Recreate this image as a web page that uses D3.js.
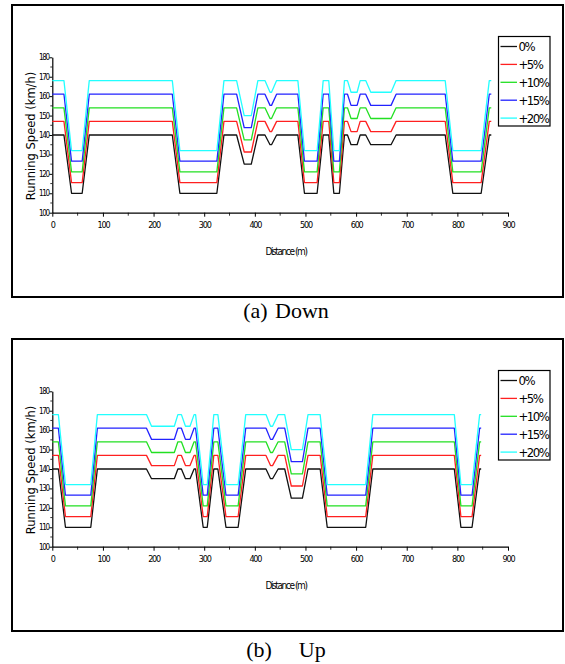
<!DOCTYPE html>
<html>
<head>
<meta charset="utf-8">
<script src="https://cdn.jsdelivr.net/npm/d3@7"></script>
<style>
  html, body { margin: 0; padding: 0; background: #fff; }
  svg { display: block; }
</style>
</head>
<body>
<svg id="chart" width="565" height="664"></svg>
<script>
// Series names and axis ticks
const seriesLabels = ["0%", "+5%", "+10%", "+15%", "+20%"];
const seriesColors = ["#111111", "#ff2020", "#22e022", "#2222ff", "#22ffff"];
const xTicks = [0, 100, 200, 300, 400, 500, 600, 700, 800, 900];
const yTicks = [100, 110, 120, 130, 140, 150, 160, 170, 180];

// (a) Down: distance (m) and running speed (km/h) for each speed increase
const downDistance = [0, 23, 38, 59, 73, 237, 252, 325, 339, 364, 379, 393, 406, 420, 430, 433, 443, 485, 498, 523, 535, 546, 556, 567, 577, 583, 590, 602, 608, 619, 629, 669, 679, 776, 791, 847, 863, 867];
const down0  = [140,140,110,110,140,140,110,110,140,140,125,125,140,140,135,135,140,140,110,110,140,140,110,110,140,140,135,135,140,140,135,135,140,140,110,110,140,140];
const down5  = [147,147,115.5,115.5,147,147,115.5,115.5,147,147,131.25,131.25,147,147,141.75,141.75,147,147,115.5,115.5,147,147,115.5,115.5,147,147,141.75,141.75,147,147,141.75,141.75,147,147,115.5,115.5,147,147];
const down10 = [154,154,121,121,154,154,121,121,154,154,137.5,137.5,154,154,148.5,148.5,154,154,121,121,154,154,121,121,154,154,148.5,148.5,154,154,148.5,148.5,154,154,121,121,154,154];
const down15 = [161,161,126.5,126.5,161,161,126.5,126.5,161,161,143.75,143.75,161,161,155.25,155.25,161,161,126.5,126.5,161,161,126.5,126.5,161,161,155.25,155.25,161,161,155.25,155.25,161,161,126.5,126.5,161,161];
const down20 = [168,168,132,132,168,168,132,132,168,168,150,150,168,168,162,162,168,168,132,132,168,168,132,132,168,168,162,162,168,168,162,162,168,168,132,132,168,168];

// (b) Up
const upDistance = [0, 12, 26, 76, 89, 186, 196, 241, 248, 255, 263, 272, 280, 283, 298, 306, 319, 327, 343, 367, 382, 422, 431, 435, 446, 459, 472, 494, 505, 529, 543, 619, 633, 794, 807, 829, 844, 847];
const up0  = [140,140,110,110,140,140,135,135,140,140,135,135,140,140,110,110,140,140,110,110,140,140,135,135,140,140,125,125,140,140,110,110,140,140,110,110,140,140];
const up5  = [147,147,115.5,115.5,147,147,141.75,141.75,147,147,141.75,141.75,147,147,115.5,115.5,147,147,115.5,115.5,147,147,141.75,141.75,147,147,131.25,131.25,147,147,115.5,115.5,147,147,115.5,115.5,147,147];
const up10 = [154,154,121,121,154,154,148.5,148.5,154,154,148.5,148.5,154,154,121,121,154,154,121,121,154,154,148.5,148.5,154,154,137.5,137.5,154,154,121,121,154,154,121,121,154,154];
const up15 = [161,161,126.5,126.5,161,161,155.25,155.25,161,161,155.25,155.25,161,161,126.5,126.5,161,161,126.5,126.5,161,161,155.25,155.25,161,161,143.75,143.75,161,161,126.5,126.5,161,161,126.5,126.5,161,161];
const up20 = [168,168,132,132,168,168,162,162,168,168,162,162,168,168,132,132,168,168,132,132,168,168,162,162,168,168,150,150,168,168,132,132,168,168,132,132,168,168];

const svg = d3.select("#chart");
const narrow = '"Liberation Sans Narrow", "DejaVu Sans Condensed", sans-serif';

function drawPanel(oy, distance, series, caption, captionY, wordGap) {
  const g = svg.append("g").attr("transform", `translate(0,${oy})`);

  // outer frame
  g.append("rect")
    .attr("x", 12).attr("y", 5).attr("width", 551).attr("height", 292)
    .attr("fill", "none").attr("stroke", "#000").attr("stroke-width", 2);

  const x = d3.scaleLinear().domain([0, 900]).range([52.3, 508]);
  const y = d3.scaleLinear().domain([100, 180]).range([212.7, 57.3]);

  // minor ticks
  const minorX = d3.range(50, 900, 100);
  g.append("g").selectAll("line").data(minorX).join("line")
    .attr("x1", d => x(d)).attr("x2", d => x(d))
    .attr("y1", y(100)).attr("y2", y(100) + 3)
    .attr("stroke", "#000").attr("stroke-width", 0.8);
  const minorY = d3.range(105, 180, 10);
  g.append("g").selectAll("line").data(minorY).join("line")
    .attr("x1", x(0) - 2).attr("x2", x(0))
    .attr("y1", d => y(d)).attr("y2", d => y(d))
    .attr("stroke", "#000").attr("stroke-width", 0.8);

  // x axis
  const xAxis = g.append("g").attr("transform", `translate(0,${y(100)})`)
    .call(d3.axisBottom(x).tickValues(xTicks).tickSize(4).tickSizeOuter(0).tickFormat(d3.format("d")));
  xAxis.select(".domain").attr("stroke-width", 1.2);
  xAxis.selectAll("text")
    .attr("font-family", narrow).attr("font-size", 9)
    .style("letter-spacing", "-1.2px")
    .attr("dy", "0.9em").attr("fill", "#000");

  // y axis
  const yAxis = g.append("g").attr("transform", `translate(${x(0)},0)`)
    .call(d3.axisLeft(y).tickValues(yTicks).tickSize(3).tickSizeOuter(0).tickFormat(d3.format("d")));
  yAxis.select(".domain").attr("stroke-width", 1.2);
  yAxis.selectAll("text")
    .attr("font-family", narrow).attr("font-size", 8)
    .style("letter-spacing", "-1.3px")
    .attr("x", -3.5).attr("fill", "#000");

  // axis titles
  g.append("text")
    .attr("transform", `translate(34.5,${(y(100) + y(180)) / 2 + 1}) rotate(-90)`)
    .attr("text-anchor", "middle")
    .attr("font-family", "DejaVu Sans, sans-serif").attr("font-size", 11.5)
    .attr("fill", "#000")
    .text("Running Speed (km/h)");
  g.append("text")
    .attr("x", 286).attr("y", 255)
    .attr("text-anchor", "middle")
    .attr("font-family", narrow).attr("font-size", 10)
    .style("letter-spacing", "-1.4px")
    .attr("fill", "#000")
    .text("Distance (m)");

  // speed profiles
  const line = d3.line().x(d => x(d[0])).y(d => y(d[1]));
  series.forEach((vals, i) => {
    g.append("path")
      .datum(distance.map((d, k) => [d, vals[k]]))
      .attr("d", line)
      .attr("fill", "none")
      .attr("stroke", seriesColors[i])
      .attr("stroke-width", 1.3)
      .attr("stroke-linejoin", "round");
  });

  // legend
  const lg = g.append("g");
  lg.append("rect")
    .attr("x", 498.5).attr("y", 36.5).attr("width", 51.5).attr("height", 89.5)
    .attr("fill", "#fff").attr("stroke", "#000").attr("stroke-width", 1.2);
  seriesLabels.forEach((lab, i) => {
    const ly = 46.5 + i * 17.9;
    lg.append("line")
      .attr("x1", 500.5).attr("x2", 517).attr("y1", ly).attr("y2", ly)
      .attr("stroke", seriesColors[i]).attr("stroke-width", 1.3);
    lg.append("text")
      .attr("x", 518.5).attr("y", ly + 4.5)
      .attr("font-family", narrow).attr("font-size", 13)
      .style("letter-spacing", "-1.5px")
      .attr("fill", "#000")
      .text(lab);
  });

  // caption below the frame
  svg.append("text")
    .attr("x", 286).attr("y", captionY)
    .attr("text-anchor", "middle")
    .attr("font-family", "Liberation Serif, Times New Roman, serif")
    .attr("font-size", 22)
    .attr("word-spacing", wordGap)
    .style("white-space", "pre")
    .attr("fill", "#000")
    .text(caption);
}

drawPanel(0, downDistance, [down0, down5, down10, down15, down20], "(a) Down", 318, 2);
drawPanel(334, upDistance, [up0, up5, up10, up15, up20], "(b)  Up", 657, 8);
</script>
</body>
</html>
